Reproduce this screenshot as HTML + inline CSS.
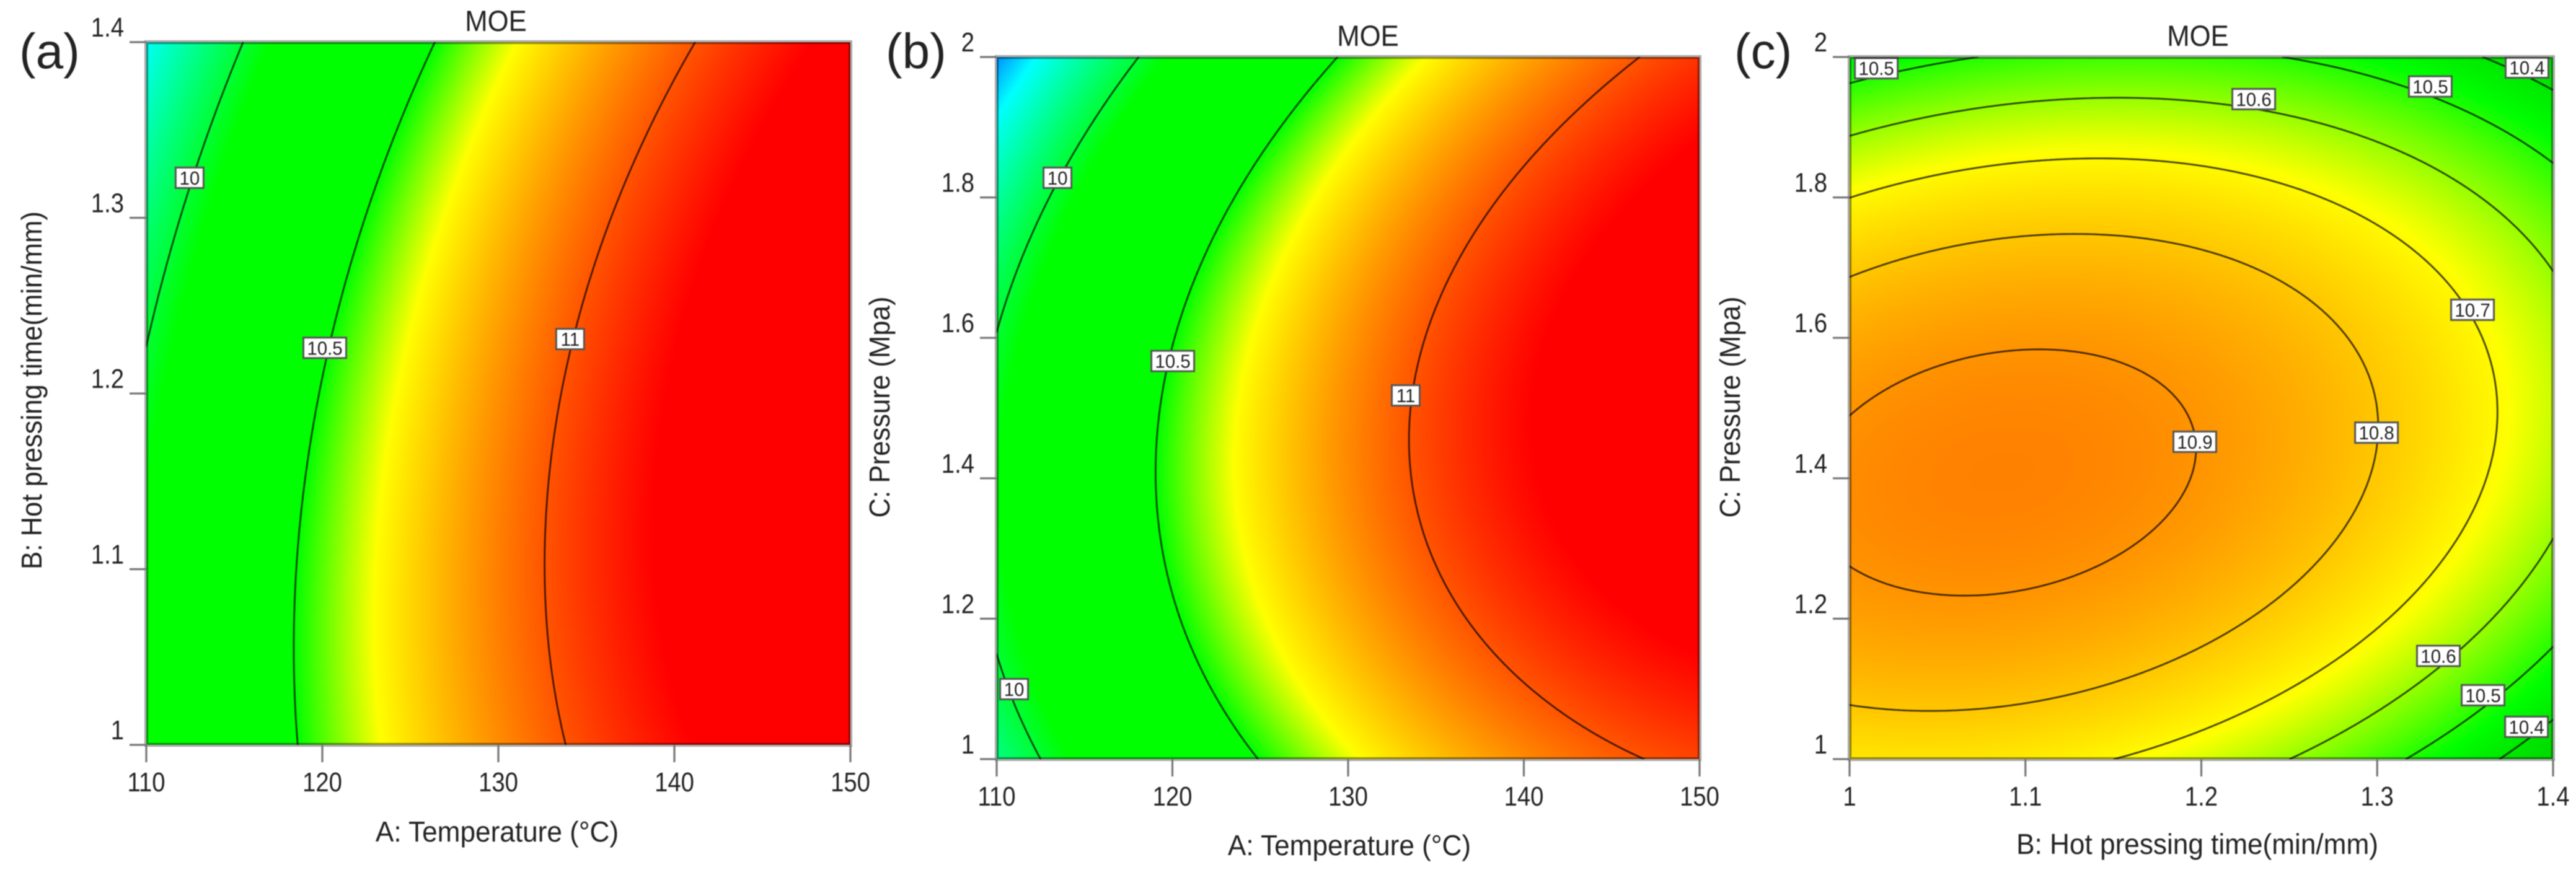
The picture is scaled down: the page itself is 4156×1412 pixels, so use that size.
<!DOCTYPE html>
<html lang="en">
<head>
<meta charset="utf-8">
<title>MOE contour plots</title>
<style>
  html, body { margin: 0; padding: 0; background: #fff; }
  #figure { position: relative; width: 4156px; height: 1412px; overflow: hidden; background: #fff; }
  #figure canvas { position: absolute; z-index: 1; }
  #overlay { position: absolute; left: 0; top: 0; z-index: 2; filter: blur(0.8px); }
  text { font-family: "Liberation Sans", Arial, sans-serif; fill: #222; }
</style>
</head>
<body>
<div id="figure">
  <svg id="overlay" width="4156" height="1412" viewBox="0 0 4156 1412" xmlns="http://www.w3.org/2000/svg"></svg>
</div>
<script>
// ---------- Panel (a): A temperature vs B hot pressing time ----------
const panelAColumns = [110, 130, 150];
const panelARows = [1, 1.2, 1.4];
const panelAValues = [
  [10.12, 10.895, 11.29],
  [10.03, 10.888, 11.355],
  [9.705, 10.641, 11.2]
];
const panelALevels = [10, 10.5, 11];
const panelAXTicks = [110, 120, 130, 140, 150];
const panelAYTicks = [1, 1.1, 1.2, 1.3, 1.4];
const panelALabelLevels = ['10', '10.5', '11'];
const panelALabelX = [112.46, 120.14, 134.08];
const panelALabelY = [1.3228, 1.226, 1.231];

// ---------- Panel (b): A temperature vs C pressure ----------
const panelBColumns = [110, 130, 150];
const panelBRows = [1, 1.5, 2];
const panelBValues = [
  [9.88, 10.661, 11.031],
  [10.05, 10.897, 11.29],
  [9.56, 10.523, 11.062]
];
const panelBLevels = [10, 10.5, 11];
const panelBXTicks = [110, 120, 130, 140, 150];
const panelBYTicks = [1, 1.2, 1.4, 1.6, 1.8, 2];
const panelBLabelLevels = ['10', '10', '10.5', '11'];
const panelBLabelX = [113.46, 110.99, 120.02, 133.28];
const panelBLabelY = [1.828, 1.0997, 1.567, 1.518];

// ---------- Panel (c): B hot pressing time vs C pressure ----------
const panelCColumns = [1, 1.2, 1.4];
const panelCRows = [1, 1.5, 2];
const panelCValues = [
  [10.735, 10.658, 10.335],
  [10.897, 10.894, 10.644],
  [10.445, 10.518, 10.346]
];
const panelCLevels = [10.4, 10.5, 10.6, 10.7, 10.8, 10.9];
const panelCXTicks = [1, 1.1, 1.2, 1.3, 1.4];
const panelCYTicks = [1, 1.2, 1.4, 1.6, 1.8, 2];
const panelCLabelLevels = ['10.5', '10.6', '10.5', '10.4', '10.7', '10.8', '10.9', '10.6', '10.5', '10.4'];
const panelCLabelX = [1.0152, 1.2298, 1.3302, 1.3852, 1.3542, 1.2996, 1.1963, 1.3348, 1.3602, 1.3849];
const panelCLabelY = [1.984, 1.94, 1.958, 1.985, 1.64, 1.465, 1.452, 1.147, 1.091, 1.046];

// Colour scale breakpoints (response value)
const wideScaleBreaks = [9.56, 9.69, 10.08, 10.5, 10.68, 11.16];
const wideScaleColors = [[0,144,255],[0,255,255],[0,255,0],[0,255,0],[255,255,0],[255,0,0]];
const narrowScaleBreaks = [10.3, 10.42, 10.47, 10.69, 10.95];
const narrowScaleColors = [[0,205,0],[0,238,0],[0,255,0],[255,255,0],[255,122,0]];

const panels = [
  { id:'a', tag:'(a)', tagX:31, tagY:110, left:236, right:1372, top:68, bottom:1202,
    xMin:110, xMax:150, yMin:1, yMax:1.4, columns:panelAColumns, rows:panelARows, values:panelAValues,
    levels:panelALevels, xTicks:panelAXTicks, yTicks:panelAYTicks,
    labelLevels:panelALabelLevels, labelX:panelALabelX, labelY:panelALabelY,
    scaleBreaks:wideScaleBreaks, scaleColors:wideScaleColors,
    title:'MOE', titleX:800, xTitle:'A: Temperature (\u00B0C)', xTitleX:802, xTitleY:1358,
    yTitle:'B: Hot pressing time(min/mm)', yTitleX:67, yTitleY:630 },
  { id:'b', tag:'(b)', tagX:1429, tagY:110, left:1608, right:2742, top:92, bottom:1225,
    xMin:110, xMax:150, yMin:1, yMax:2, columns:panelBColumns, rows:panelBRows, values:panelBValues,
    levels:panelBLevels, xTicks:panelBXTicks, yTicks:panelBYTicks,
    labelLevels:panelBLabelLevels, labelX:panelBLabelX, labelY:panelBLabelY,
    scaleBreaks:wideScaleBreaks, scaleColors:wideScaleColors,
    title:'MOE', titleX:2207, xTitle:'A: Temperature (\u00B0C)', xTitleX:2177, xTitleY:1380,
    yTitle:'C: Pressure (Mpa)', yTitleX:1435, yTitleY:657 },
  { id:'c', tag:'(c)', tagX:2798, tagY:110, left:2984, right:4119, top:92, bottom:1225,
    xMin:1, xMax:1.4, yMin:1, yMax:2, columns:panelCColumns, rows:panelCRows, values:panelCValues,
    levels:panelCLevels, xTicks:panelCXTicks, yTicks:panelCYTicks,
    labelLevels:panelCLabelLevels, labelX:panelCLabelX, labelY:panelCLabelY,
    scaleBreaks:narrowScaleBreaks, scaleColors:narrowScaleColors,
    title:'MOE', titleX:3546, xTitle:'B: Hot pressing time(min/mm)', xTitleX:3545, xTitleY:1378,
    yTitle:'C: Pressure (Mpa)', yTitleX:2807, yTitleY:657 }
];

const SVGNS = 'http://www.w3.org/2000/svg';
const overlay = document.getElementById('overlay');
const figure = document.getElementById('figure');

function svgEl(tag, parent) {
  const el = document.createElementNS(SVGNS, tag);
  parent.appendChild(el);
  return el;
}

function addText(parent, str, x, y, size, anchor, sx, rotate) {
  const t = svgEl('text', parent);
  t.textContent = str;
  t.setAttribute('font-size', size);
  t.setAttribute('text-anchor', anchor);
  t.setAttribute('transform', 'translate(' + x + ',' + y + ')' + (rotate ? ' rotate(-90)' : '') + ' scale(' + sx + ',1)');
  return t;
}

function addLine(parent, x1, y1, x2, y2, stroke, width, opacity) {
  const l = svgEl('line', parent);
  l.setAttribute('x1', x1);
  l.setAttribute('y1', y1);
  l.setAttribute('x2', x2);
  l.setAttribute('y2', y2);
  l.setAttribute('stroke', stroke);
  l.setAttribute('stroke-width', width);
  if (opacity !== undefined) l.setAttribute('stroke-opacity', opacity);
  return l;
}

function lagrangeWeights(nodes, t) {
  return nodes.map(function (n, i) {
    let w = 1;
    nodes.forEach(function (m, j) { if (j !== i) w *= (t - m) / (n - m); });
    return w;
  });
}

function surface(p, x, y) {
  const wx = lagrangeWeights(p.columns, x);
  const wy = lagrangeWeights(p.rows, y);
  let s = 0;
  for (let r = 0; r < p.rows.length; r++) {
    for (let c = 0; c < p.columns.length; c++) s += wy[r] * wx[c] * p.values[r][c];
  }
  return s;
}

function colorFor(p, v) {
  const b = p.scaleBreaks, col = p.scaleColors;
  if (v <= b[0]) return col[0];
  for (let i = 1; i < b.length; i++) {
    if (v <= b[i]) {
      const f = (v - b[i - 1]) / (b[i] - b[i - 1]);
      return [0, 1, 2].map(function (k) { return col[i - 1][k] + f * (col[i][k] - col[i - 1][k]); });
    }
  }
  return col[col.length - 1];
}

function drawHeatmap(p, xScaleInv, yScaleInv) {
  const cv = document.createElement('canvas');
  
  
  const W = p.right - p.left, H = p.bottom - p.top;
  const w = Math.round(W / 2), h = Math.round(H / 2);
  cv.width = w;
  cv.height = h;
  cv.style.left = p.left + 'px';
  cv.style.top = p.top + 'px';
  cv.style.width = W + 'px';
  cv.style.height = H + 'px';
  const ctx = cv.getContext('2d');
  const img = ctx.createImageData(w, h);
  for (let j = 0; j < h; j++) {
    const y = yScaleInv(p.top + (j + 0.5) * H / h);
    for (let i = 0; i < w; i++) {
      const x = xScaleInv(p.left + (i + 0.5) * W / w);
      const c = colorFor(p, surface(p, x, y));
      const o = (j * w + i) * 4;
      img.data[o] = c[0];
      img.data[o + 1] = c[1];
      img.data[o + 2] = c[2];
      img.data[o + 3] = 255;
    }
  }
  ctx.putImageData(img, 0, 0);
  figure.appendChild(cv);
}

function contourPath(p, level, xScale, yScale) {
  const N = 260;
  const gx = [], gy = [], f = [];
  for (let i = 0; i <= N; i++) gx.push(p.xMin + (p.xMax - p.xMin) * i / N);
  for (let j = 0; j <= N; j++) gy.push(p.yMin + (p.yMax - p.yMin) * j / N);
  for (let j = 0; j <= N; j++) {
    const row = [];
    for (let i = 0; i <= N; i++) row.push(surface(p, gx[i], gy[j]));
    f.push(row);
  }
  let d = '';
  function cross(x1, y1, v1, x2, y2, v2) {
    const t = (level - v1) / (v2 - v1);
    return [xScale(x1 + t * (x2 - x1)), yScale(y1 + t * (y2 - y1))];
  }
  for (let j = 0; j < N; j++) {
    for (let i = 0; i < N; i++) {
      const a = f[j][i], b = f[j][i + 1], c = f[j + 1][i + 1], e = f[j + 1][i];
      const pts = [];
      if ((a < level) !== (b < level)) pts.push(cross(gx[i], gy[j], a, gx[i + 1], gy[j], b));
      if ((b < level) !== (c < level)) pts.push(cross(gx[i + 1], gy[j], b, gx[i + 1], gy[j + 1], c));
      if ((e < level) !== (c < level)) pts.push(cross(gx[i], gy[j + 1], e, gx[i + 1], gy[j + 1], c));
      if ((a < level) !== (e < level)) pts.push(cross(gx[i], gy[j], a, gx[i], gy[j + 1], e));
      for (let k = 0; k + 1 < pts.length; k += 2) {
        d += 'M' + pts[k][0].toFixed(1) + ' ' + pts[k][1].toFixed(1) + 'L' + pts[k + 1][0].toFixed(1) + ' ' + pts[k + 1][1].toFixed(1);
      }
    }
  }
  return d;
}

panels.forEach(function (p) {
  const xScale = function (v) { return p.left + (v - p.xMin) / (p.xMax - p.xMin) * (p.right - p.left); };
  const yScale = function (v) { return p.bottom - (v - p.yMin) / (p.yMax - p.yMin) * (p.bottom - p.top); };
  const xInv = function (px) { return p.xMin + (px - p.left) / (p.right - p.left) * (p.xMax - p.xMin); };
  const yInv = function (py) { return p.yMin + (p.bottom - py) / (p.bottom - p.top) * (p.yMax - p.yMin); };

  drawHeatmap(p, xInv, yInv);

  const g = svgEl('g', overlay);
  
  

  // clip region for contours and labels
  const defs = svgEl('defs', g);
  const clip = svgEl('clipPath', defs);
  clip.setAttribute('id', 'clip-' + p.id);
  const clipRect = svgEl('rect', clip);
  clipRect.setAttribute('x', p.left);
  clipRect.setAttribute('y', p.top);
  clipRect.setAttribute('width', p.right - p.left);
  clipRect.setAttribute('height', p.bottom - p.top);

  // contour lines
  const cg = svgEl('g', g);
  cg.setAttribute('clip-path', 'url(#clip-' + p.id + ')');
  
  
  p.levels.forEach(function (level) {
    const path = svgEl('path', cg);
    path.setAttribute('d', contourPath(p, level, xScale, yScale));
    path.setAttribute('fill', 'none');
    path.setAttribute('stroke', '#000');
    path.setAttribute('stroke-opacity', '0.72');
    path.setAttribute('stroke-width', '2.8');
    path.setAttribute('stroke-linecap', 'round');
    
    
  });

  // contour labels
  p.labelLevels.forEach(function (str, i) {
    const cx = xScale(p.labelX[i]), cy = yScale(p.labelY[i]);
    const w = str.length > 2 ? 69 : 45, h = 33;
    const lg = svgEl('g', cg);
    
    
    const box = svgEl('rect', lg);
    box.setAttribute('x', cx - w / 2);
    box.setAttribute('y', cy - h / 2);
    box.setAttribute('width', w);
    box.setAttribute('height', h);
    box.setAttribute('fill', '#fff');
    box.setAttribute('stroke', '#555');
    box.setAttribute('stroke-width', '3');
    addText(lg, str, cx, cy + 11, 31, 'middle', 0.95, false);
  });

  // frame
  const outer = svgEl('rect', g);
  outer.setAttribute('x', p.left - 1.5);
  outer.setAttribute('y', p.top - 1.5);
  outer.setAttribute('width', p.right - p.left + 3);
  outer.setAttribute('height', p.bottom - p.top + 3);
  outer.setAttribute('fill', 'none');
  outer.setAttribute('stroke', '#a8a8a8');
  outer.setAttribute('stroke-width', '3');
  
  
  const inner = svgEl('rect', g);
  inner.setAttribute('x', p.left + 1.5);
  inner.setAttribute('y', p.top + 1.5);
  inner.setAttribute('width', p.right - p.left - 3);
  inner.setAttribute('height', p.bottom - p.top - 3);
  inner.setAttribute('fill', 'none');
  inner.setAttribute('stroke', '#000');
  inner.setAttribute('stroke-opacity', '0.42');
  inner.setAttribute('stroke-width', '3');

  // x axis
  const xg = svgEl('g', g);
  
  
  p.xTicks.forEach(function (v) {
    addLine(xg, xScale(v), p.bottom, xScale(v), p.bottom + 28, '#777', 3.2);
    addText(xg, String(v), xScale(v), p.bottom + 75, 44, 'middle', 0.87, false);
  });

  // y axis
  const yg = svgEl('g', g);
  
  
  p.yTicks.forEach(function (v) {
    addLine(yg, p.left - 27, yScale(v), p.left, yScale(v), '#777', 3.2);
    addText(yg, String(v), p.left - 36, yScale(v) - 9, 44, 'end', 0.87, false);
  });

  // titles
  const title = addText(g, p.title, p.titleX, p.top - 18, 47, 'middle', 0.93, false);
  
  
  const xt = addText(g, p.xTitle, p.xTitleX, p.xTitleY, 46, 'middle', 0.96, false);
  
  
  const yt = addText(g, p.yTitle, p.yTitleX, p.yTitleY, 46, 'middle', 0.95, true);
  
  
  const tag = addText(g, p.tag, p.tagX, p.tagY, 80, 'start', 1, false);
  
  
});
</script>
</body>
</html>
